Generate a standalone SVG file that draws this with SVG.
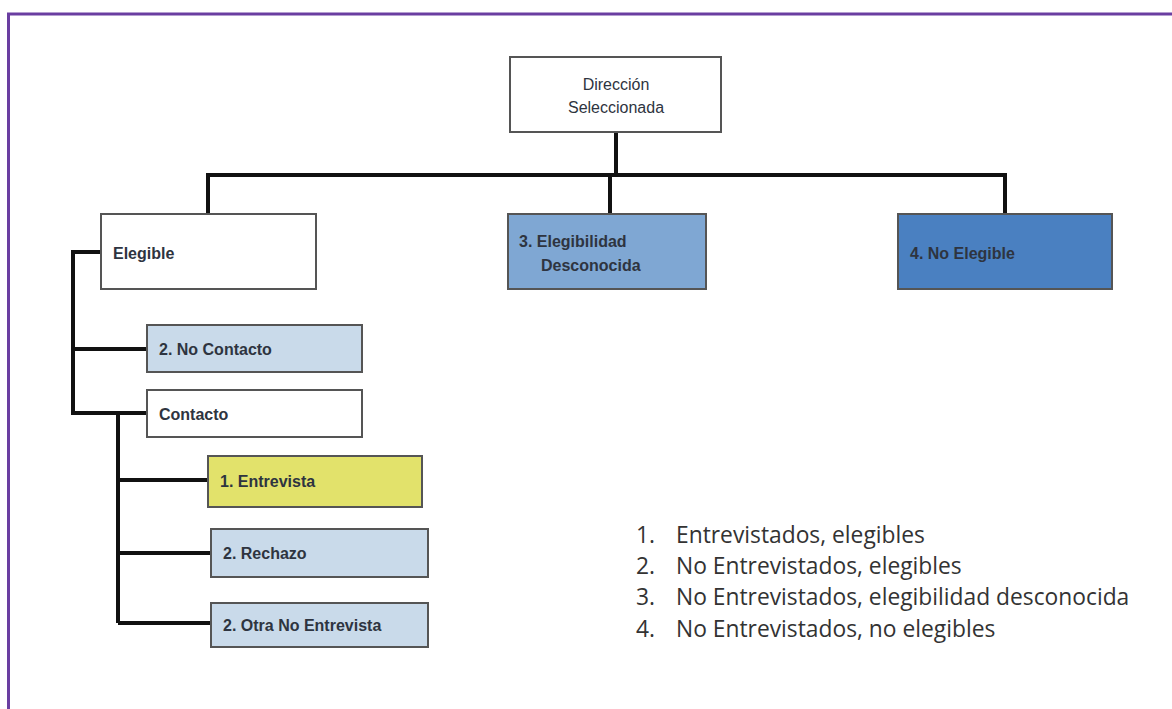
<svg xmlns="http://www.w3.org/2000/svg" width="1172" height="709" viewBox="0 0 1172 709">
<style>
.box{stroke:#555;stroke-width:2}
.lbl{font-family:"Liberation Sans",Arial,sans-serif;font-size:16px;font-weight:bold;fill:#2e3440}
.n{font-weight:normal}
.leg{font-family:"Open Sans","Liberation Sans",sans-serif;font-size:22.8px;fill:#333}
.c{fill:none;stroke:#111;stroke-width:4;stroke-linejoin:miter}
</style>
<rect width="1172" height="709" fill="#fff"/>
<path d="M8.5 709 V14 H1172" fill="none" stroke="#6a3ea1" stroke-width="3"/>
<g id="connectors">
<path class="c" d="M616 132 V175"/>
<path class="c" d="M208 214 V175 H1005 V214"/>
<path class="c" d="M610 175 V214"/>
<path class="c" d="M101 252 H73 V413 H147"/>
<path class="c" d="M73 349 H147"/>
<path class="c" d="M118 413 V623"/>
<path class="c" d="M118 480 H208" stroke-width="3"/>
<path class="c" d="M118 553 H211" stroke-width="5"/>
<path class="c" d="M118 623 H211" stroke-width="2"/>
</g>
<g id="n-direccion"><rect class="box" x="510" y="57" width="211" height="75" fill="#fff"/><text class="lbl n" x="616" y="90" text-anchor="middle" font-size="15">Dirección</text><text class="lbl n" x="616" y="113" text-anchor="middle" font-size="15">Seleccionada</text></g>
<g id="n-elegible"><rect class="box" x="101" y="214" width="215" height="75" fill="#fff"/><text class="lbl" x="113" y="259">Elegible</text></g>
<g id="n-desconocida"><rect class="box" x="508" y="214" width="198" height="75" fill="#7fa7d3"/><text class="lbl" x="519" y="247">3. Elegibilidad</text><text class="lbl" x="541" y="271">Desconocida</text></g>
<g id="n-noelegible"><rect class="box" x="898" y="214" width="214" height="75" fill="#4a80c1"/><text class="lbl" x="910" y="259">4. No Elegible</text></g>
<g id="n-nocontacto"><rect class="box" x="147" y="325" width="215" height="47" fill="#c9daea"/><text class="lbl" x="159" y="355">2. No Contacto</text></g>
<g id="n-contacto"><rect class="box" x="147" y="390" width="215" height="47" fill="#fff"/><text class="lbl" x="159" y="420">Contacto</text></g>
<g id="n-entrevista"><rect class="box" x="208" y="456" width="214" height="51" fill="#e2e26b"/><text class="lbl" x="220" y="487">1. Entrevista</text></g>
<g id="n-rechazo"><rect class="box" x="211" y="529" width="217" height="48" fill="#c9daea"/><text class="lbl" x="223" y="559">2. Rechazo</text></g>
<g id="n-otra"><rect class="box" x="211" y="603" width="217" height="44" fill="#c9daea"/><text class="lbl" x="223" y="631">2. Otra No Entrevista</text></g>
<g id="legend">
<text class="leg" x="636" y="543">1.</text><text class="leg" x="676" y="543">Entrevistados, elegibles</text>
<text class="leg" x="636" y="574">2.</text><text class="leg" x="676" y="574">No Entrevistados, elegibles</text>
<text class="leg" x="636" y="605">3.</text><text class="leg" x="676" y="605">No Entrevistados, elegibilidad desconocida</text>
<text class="leg" x="636" y="637">4.</text><text class="leg" x="676" y="637">No Entrevistados, no elegibles</text>
</g>
</svg>
